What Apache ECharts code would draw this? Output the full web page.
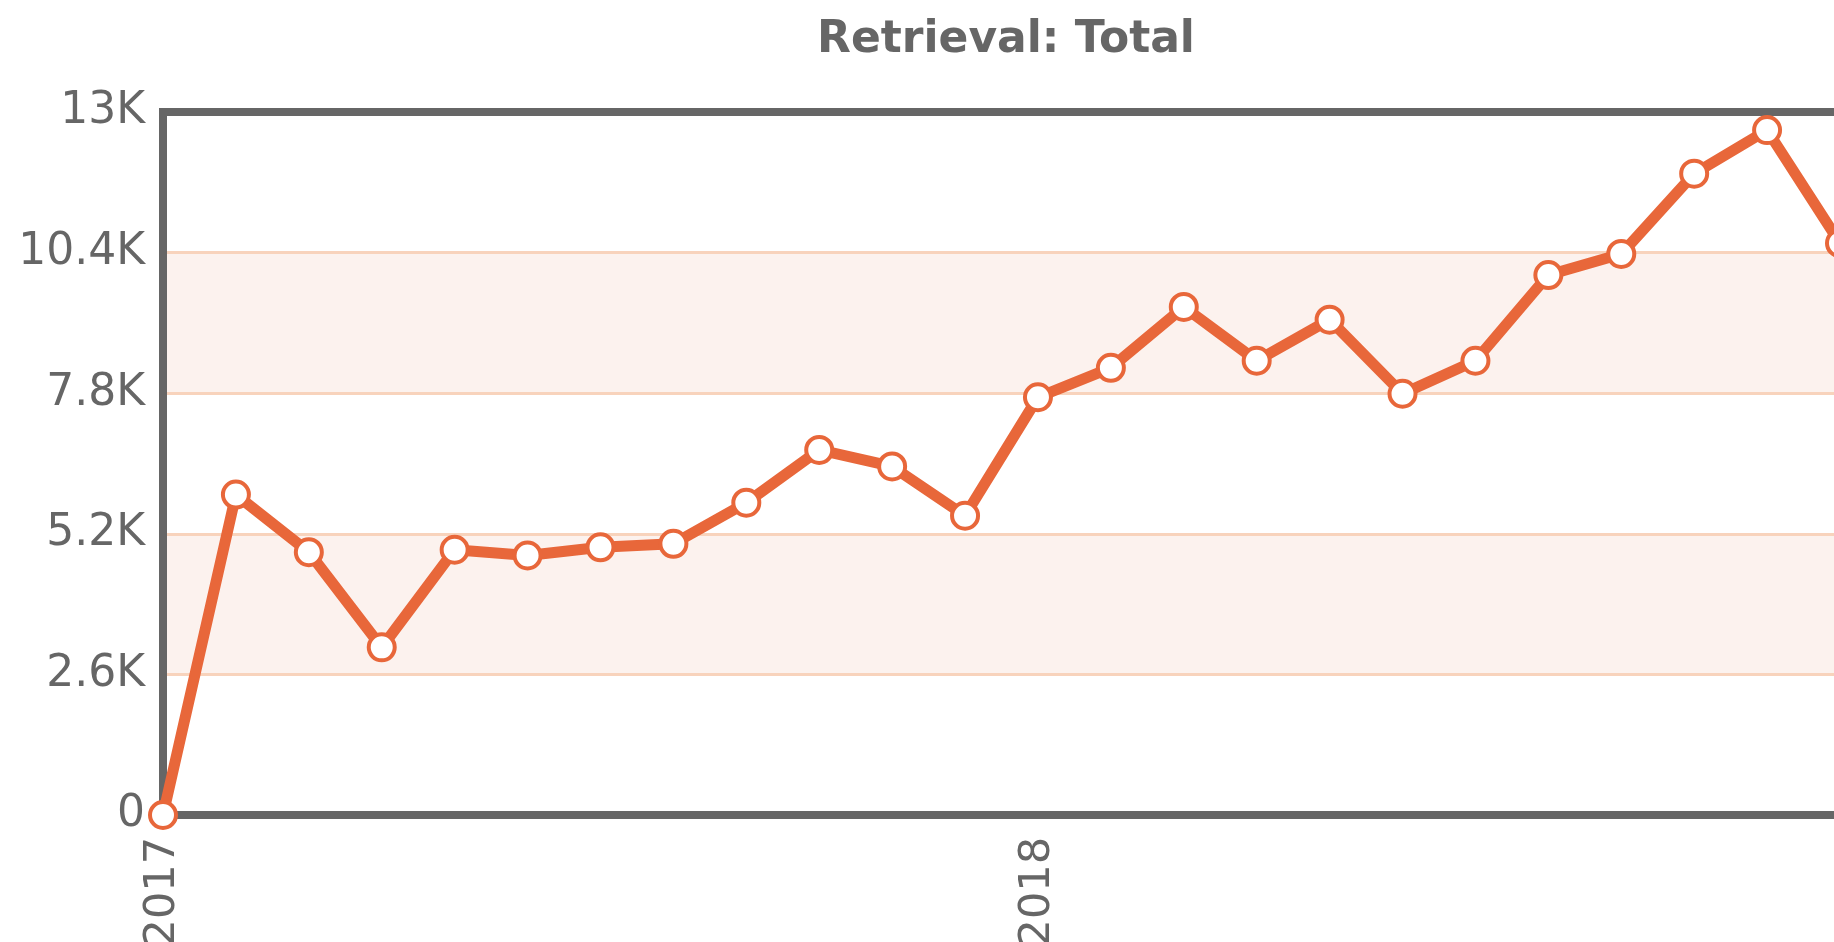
<!DOCTYPE html>
<html>
<head>
<meta charset="utf-8">
<script src="https://cdn.jsdelivr.net/npm/echarts@6/dist/echarts.min.js"></script>
<style>
html,body{margin:0;padding:0;background:#fff;}
#chart{width:1834px;height:942px;}
</style>
</head>
<body>
<div id="chart"></div>
<script>
const titleText = 'Retrieval: Total';
const months = ['2017-01','2017-02','2017-03','2017-04','2017-05','2017-06','2017-07','2017-08','2017-09','2017-10','2017-11','2017-12',
                '2018-01','2018-02','2018-03','2018-04','2018-05','2018-06','2018-07','2018-08','2018-09','2018-10','2018-11','2018-12'];
const totals = [0, 5925, 4860, 3100, 4905, 4800, 4950, 5015, 5775, 6750, 6445, 5535,
                7725, 8270, 9395, 8400, 9160, 7790, 8400, 9985, 10375, 11860, 12665, 10575];
const yTicks = [0, 2600, 5200, 7800, 10400, 13000];
const yTickLabels = ['0', '2.6K', '5.2K', '7.8K', '10.4K', '13K'];

const chart = echarts.init(document.getElementById('chart'));
const font = '"DejaVu Sans", Verdana, sans-serif';
const axisLine = { show: true, lineStyle: { color: '#666', width: 8, cap: 'square' } };
chart.setOption({
  animation: false,
  title: {
    text: titleText,
    left: 812,
    top: 14,
    textStyle: { fontFamily: font, fontSize: 44, fontWeight: 'bold', color: '#666' }
  },
  grid: {
    left: 163, right: -6, top: 112, bottom: 127,
    outerBoundsMode: 'none',
    containLabel: false,
    show: false
  },
  xAxis: [{
    type: 'category',
    data: months,
    boundaryGap: false,
    axisLine: axisLine,
    axisTick: { show: false },
    splitLine: { show: false },
    axisLabel: {
      interval: 0,
      rotate: 90,
      margin: 22,
      fontFamily: font, fontSize: 43, color: '#666',
      formatter: v => v.endsWith('-01') ? v.slice(0, 4) : ''
    },
    z: 3
  }, {
    type: 'category',
    position: 'top',
    data: months,
    boundaryGap: false,
    axisLine: axisLine,
    axisTick: { show: false },
    axisLabel: { show: false },
    splitLine: { show: false },
    z: 3
  }],
  yAxis: {
    type: 'value',
    min: yTicks[0],
    max: yTicks[yTicks.length - 1],
    interval: yTicks[1] - yTicks[0],
    axisLine: axisLine,
    axisTick: { show: false },
    axisLabel: {
      margin: 18,
      padding: [12, 0, 0, 0],
      fontFamily: font, fontSize: 44, color: '#666',
      formatter: v => { const i = yTicks.indexOf(v); return i >= 0 ? yTickLabels[i] : ''; }
    },
    splitLine: { show: true, lineStyle: { color: '#f8d3bc', width: 3 } },
    splitArea: { show: true, areaStyle: { color: ['#ffffff', '#fcf2ee'] } },
    z: 3
  },
  series: [{
    type: 'line',
    xAxisIndex: 0,
    data: totals,
    symbol: 'circle',
    symbolSize: 26,
    showAllSymbol: true,
    lineStyle: { color: '#e8673a', width: 11 },
    itemStyle: { color: '#ffffff', borderColor: '#e8673a', borderWidth: 4 },
    z: 5
  }]
});
</script>
</body>
</html>
